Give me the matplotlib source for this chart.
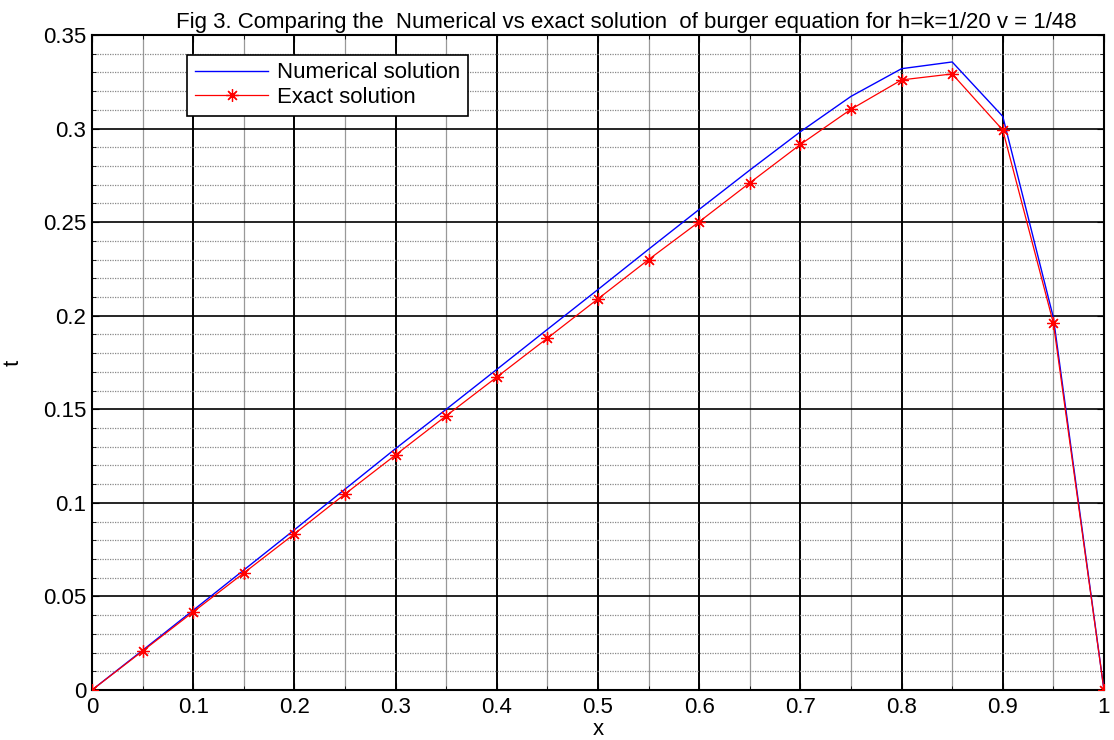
import matplotlib
matplotlib.use("Agg")
import matplotlib.pyplot as plt
from matplotlib.ticker import MultipleLocator, FuncFormatter

plt.rcParams['font.family'] = ['Liberation Sans', 'DejaVu Sans']

# values
x_vals = [0.0, 0.05, 0.1, 0.15, 0.2, 0.25, 0.3, 0.35, 0.4, 0.45, 0.5,
          0.55, 0.6, 0.65, 0.7, 0.75, 0.8, 0.85, 0.9, 0.95, 1.0]
numerical = [0.0, 0.0212, 0.0426, 0.0641, 0.0856, 0.1073, 0.1290, 0.1500, 0.1713, 0.1927, 0.2140,
             0.2355, 0.2568, 0.2778, 0.2983, 0.3172, 0.3320, 0.3356, 0.3065, 0.1990, 0.0]
exact = [0.0, 0.0208, 0.0417, 0.0625, 0.0834, 0.1047, 0.1256, 0.1465, 0.1672, 0.1880, 0.2090,
         0.2300, 0.2502, 0.2710, 0.2915, 0.3103, 0.3260, 0.3292, 0.2992, 0.1960, 0.0]

title = "Fig 3. Comparing the  Numerical vs exact solution  of burger equation for h=k=1/20 v = 1/48"

fig = plt.figure(figsize=(11.14, 7.40), dpi=100)
ax = fig.add_axes([0.0826, 0.0676, 0.9084, 0.8851])

ax.plot(x_vals, numerical, color='#0000ff', linewidth=1.0, label='Numerical solution', zorder=3)
ax.plot(x_vals, exact, color='#ff0000', linewidth=0.9, marker=(8, 2, 0), markersize=9,
        markeredgewidth=0.9, label='Exact solution', zorder=4)

ax.set_xlim(0, 1)
ax.set_ylim(0, 0.35)
ax.xaxis.set_major_locator(MultipleLocator(0.1))
ax.xaxis.set_minor_locator(MultipleLocator(0.05))
ax.yaxis.set_major_locator(MultipleLocator(0.05))
ax.yaxis.set_minor_locator(MultipleLocator(0.01))
ax.xaxis.set_major_formatter(FuncFormatter(lambda v, p: f"{v:g}"))
ax.yaxis.set_major_formatter(FuncFormatter(lambda v, p: f"{v:g}"))

ax.grid(True, which='major', axis='x', color='black', linestyle='-', linewidth=1.4)
ax.grid(True, which='minor', axis='x', color='#999999', linestyle='-', linewidth=0.9)
ax.grid(True, which='major', axis='y', color='black', linestyle='-', linewidth=1.2)
ax.grid(True, which='minor', axis='y', color='#888888', linestyle=(0, (1, 1)), linewidth=0.9)
ax.set_axisbelow(True)

ax.tick_params(which='both', direction='in', top=True, right=True, labelsize=16)
ax.tick_params(axis='x', pad=5)
ax.tick_params(axis='y', pad=4)
ax.tick_params(which='major', length=5)
ax.tick_params(which='minor', length=3)
for s in ax.spines.values():
    s.set_linewidth(1.5)

ax.set_title(title, fontsize=16, pad=5, x=0.528)
ax.set_xlabel('x', fontsize=16, labelpad=1)
ax.set_ylabel('t', fontsize=16, labelpad=14)

leg = ax.legend(loc='upper left', bbox_to_anchor=(0.094, 0.970), fontsize=16, frameon=True,
                fancybox=False, edgecolor='black', framealpha=1, borderpad=0.35,
                handlelength=3.3, handletextpad=0.4, labelspacing=0.15, borderaxespad=0)
leg.get_frame().set_linewidth(1.2)

fig.savefig('out.png', dpi=100)
